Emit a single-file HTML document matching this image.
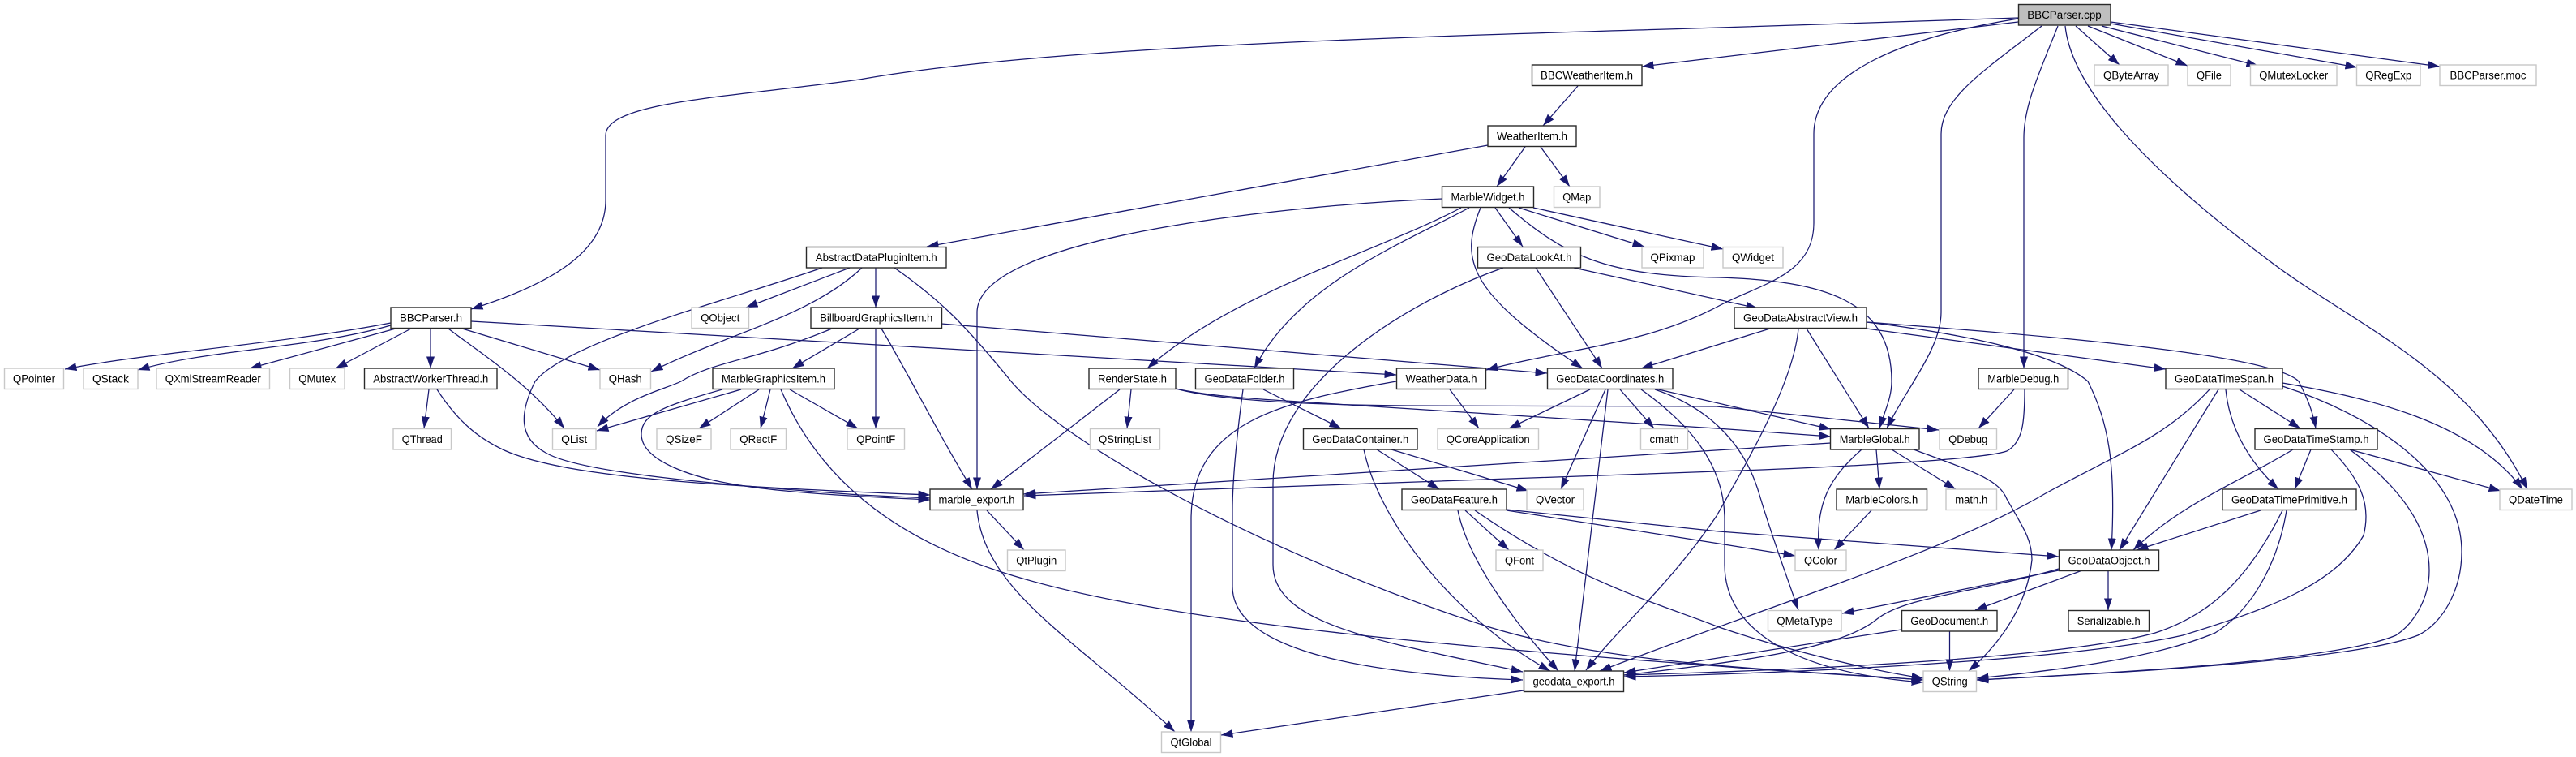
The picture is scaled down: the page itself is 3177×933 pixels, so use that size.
<!DOCTYPE html>
<html><head><meta charset="utf-8"><style>
html,body{margin:0;padding:0;background:#fff}
svg{display:block}
rect{fill:#fff;stroke-width:1.4}
rect.b{stroke:#2a2a2a}
rect.g{stroke:#c8c8c8}
text{font-family:"Liberation Sans",sans-serif;font-size:13.5px;text-anchor:middle;fill:#000;lengthAdjust:spacingAndGlyphs}
path{fill:none;stroke:#191970;stroke-width:1.25;marker-end:url(#a)}
</style></head><body>
<svg xmlns="http://www.w3.org/2000/svg" width="3177" height="933" viewBox="0 0 3177 933">
<defs><marker id="a" markerUnits="userSpaceOnUse" markerWidth="15" markerHeight="11" viewBox="0 0 15 11" refX="14.5" refY="5.5" orient="auto"><polygon points="0,0.5 14.5,5.5 0,10.5" fill="#191970"/></marker></defs>
<g>
<path d="M2489,22 L2120,34 C1800,44 1300,55 1060,98 C900,120 747,125 747,167 L747,247 C747,310 680,350 581,381"/>
<path d="M2489,27 L2025,82"/>
<path d="M2489,23 C2350,45 2237,90 2237,165 L2237,275 C2237,340 2170,350 2120,377 C2030,425 1930,430 1833,456"/>
<path d="M2518,32 C2450,85 2394,120 2394,165 L2394,385 C2394,430 2350,480 2327,528"/>
<path d="M2538,32 C2515,90 2496,130 2496,170 L2496,454"/>
<path d="M2547,32 C2555,110 2650,210 2793,317 C2900,400 3040,450 3117,603"/>
<path d="M2560,32 L2614,80"/>
<path d="M2575,32 L2698,81"/>
<path d="M2592,32 L2785,81"/>
<path d="M2603,29 L2907,83"/>
<path d="M2603,27 L3009,82"/>
<path d="M1946,106 L1903,155"/>
<path d="M1835,179 L1143,304"/>
<path d="M1881,181 L1846,230"/>
<path d="M1900,181 L1936,230"/>
<path d="M1779,245 C1600,252 1205,290 1205,385 L1205,603"/>
<path d="M1802,256 C1700,310 1520,360 1415,454"/>
<path d="M1812,256 C1730,300 1600,350 1547,454"/>
<path d="M1826,256 C1800,320 1810,360 1952,454"/>
<path d="M1844,256 L1878,304"/>
<path d="M1873,256 L2028,304"/>
<path d="M1891,256 L2125,307"/>
<path d="M1861,256 C1930,315 1980,340 2120,342 C2250,346 2333,370 2333,470 C2333,490 2325,505 2318,528"/>
<path d="M1014,330 C900,370 700,420 660,470 C640,510 640,540 673,558 C710,580 850,595 1060,610 L1147,614"/>
<path d="M1048,330 L920,379"/>
<path d="M1063,330 C1000,390 900,410 803,458"/>
<path d="M1080,330 L1080,379"/>
<path d="M1103,330 C1160,370 1190,400 1247,470 C1310,545 1550,680 1837,773 C1990,820 2200,825 2372,838"/>
<path d="M482,398 C340,425 180,435 80,455"/>
<path d="M482,401 C380,430 260,430 170,456"/>
<path d="M488,405 L308,454"/>
<path d="M507,405 L414,454"/>
<path d="M531,405 L531,454"/>
<path d="M553,405 C585,430 650,470 696,528"/>
<path d="M570,405 L740,456"/>
<path d="M581,396 L1722,462"/>
<path d="M1161,399 L1908,460"/>
<path d="M1026,405 C930,445 880,445 840,470 C820,480 770,490 737,526"/>
<path d="M1060,405 L977,454"/>
<path d="M1080,405 L1080,528"/>
<path d="M1087,405 C1120,460 1160,540 1199,603"/>
<path d="M914,480 L736,531"/>
<path d="M891,480 C820,500 791,510 791,535 C791,570 860,590 912,598 C960,606 1050,612 1147,616"/>
<path d="M936,480 L862,528"/>
<path d="M950,480 L938,528"/>
<path d="M974,480 L1058,528"/>
<path d="M963,480 C1010,590 1100,660 1229,703 C1400,760 1700,790 2120,821 C2200,828 2290,832 2372,838"/>
<path d="M529,480 L523,528"/>
<path d="M539,480 C565,520 590,540 622,555 C700,590 900,600 1147,610"/>
<path d="M1450,479 C1490,488 1540,491 1601,495 L2117,528 L2258,538"/>
<path d="M1450,479 C1500,493 1600,499 1736,500 L2117,501 L2391,530"/>
<path d="M1381,480 L1222,603"/>
<path d="M1395,480 L1390,528"/>
<path d="M1558,480 L1654,528"/>
<path d="M1533,480 C1525,540 1520,590 1520,630 L1520,723 C1520,790 1640,830 1878,838"/>
<path d="M1854,330 C1740,370 1570,470 1570,596 L1570,696 C1570,770 1700,790 1878,828"/>
<path d="M1894,330 L1976,454"/>
<path d="M1941,330 L2168,380"/>
<path d="M1788,480 L1824,528"/>
<path d="M1722,470 C1580,495 1469,520 1469,640 L1469,902"/>
<path d="M1961,480 L1861,528"/>
<path d="M1980,480 L1925,603"/>
<path d="M1983,480 L1942,827"/>
<path d="M1998,480 L2040,528"/>
<path d="M2041,479 L2258,529"/>
<path d="M2041,480 C2100,500 2150,540 2170,610 C2185,660 2200,700 2218,752"/>
<path d="M2024,480 C2080,520 2127,570 2127,640 L2127,696 C2127,780 2220,830 2372,841"/>
<path d="M2183,405 L2024,454"/>
<path d="M2218,405 C2212,470 2160,560 2117,636 C2060,720 2000,770 1956,826"/>
<path d="M2228,405 L2305,528"/>
<path d="M2302,405 L2671,455"/>
<path d="M2302,397 C2450,415 2540,440 2575,470 C2600,520 2610,570 2604,678"/>
<path d="M2302,397 C2500,412 2800,435 2835,470 C2845,490 2852,505 2856,528"/>
<path d="M2484,480 L2440,528"/>
<path d="M2497,480 C2497,520 2495,545 2475,556 C2450,565 2300,575 2117,581 L1263,611"/>
<path d="M2725,480 C2670,540 2610,560 2523,608 C2400,680 2200,740 1973,827"/>
<path d="M2736,480 L2614,678"/>
<path d="M2745,480 C2750,530 2775,570 2810,603"/>
<path d="M2762,480 L2837,528"/>
<path d="M2815,472 C2920,490 3050,520 3111,603"/>
<path d="M2815,476 C2920,510 3036,580 3036,680 C3036,730 3010,770 2982,783 C2900,815 2600,830 2438,838"/>
<path d="M2828,554 C2770,590 2690,620 2631,678"/>
<path d="M2850,554 L2830,603"/>
<path d="M2898,554 L3084,605"/>
<path d="M2875,554 C2910,590 2925,620 2915,660 C2880,720 2800,750 2692,783 C2550,815 2200,830 2003,834"/>
<path d="M2898,554 C2960,600 2996,650 2996,703 C2996,740 2975,770 2955,783 C2880,815 2600,830 2438,838"/>
<path d="M2788,629 L2635,678"/>
<path d="M2815,629 C2770,720 2720,760 2658,780 C2550,810 2250,825 2003,832"/>
<path d="M2820,629 C2810,690 2780,750 2732,780 C2660,810 2550,825 2438,836"/>
<path d="M2258,546 L1262,609"/>
<path d="M2296,554 C2255,590 2240,620 2243,678"/>
<path d="M2314,554 L2318,603"/>
<path d="M2333,554 L2412,603"/>
<path d="M2360,554 C2430,580 2465,590 2475,615 C2495,650 2506,665 2506,690 C2500,745 2470,790 2428,827"/>
<path d="M2308,629 L2262,678"/>
<path d="M2539,703 L2272,756"/>
<path d="M2539,701 C2440,730 2350,735 2315,763 C2270,800 2150,815 2003,832"/>
<path d="M2568,703 L2436,752"/>
<path d="M2600,703 L2600,752"/>
<path d="M2404.5,778 L2404.5,827"/>
<path d="M2345,776 L2003,829"/>
<path d="M1716,554 L1885,605"/>
<path d="M1698,554 L1775,603"/>
<path d="M1682,554 C1700,640 1790,760 1912,827"/>
<path d="M1807,629 L1861,678"/>
<path d="M1798,629 C1810,690 1870,770 1922,827"/>
<path d="M1858,628 L2120,655 L2539,686"/>
<path d="M1858,629 L2120,670 L2214,685"/>
<path d="M1819,629 C1950,720 2050,745 2120,773 C2200,800 2300,825 2372,836"/>
<path d="M1217,629 L1263,678"/>
<path d="M1205,629 C1215,730 1330,790 1449,902"/>
<path d="M1879,851 L1506,906"/>
</g>
<g>
<rect class="b" x="2489.5" y="5.5" width="113.5" height="25.5" style="fill:#bfbfbf"/><text x="2546" y="22.75" textLength="91.5" lengthAdjust="spacingAndGlyphs">BBCParser.cpp</text>
<rect class="b" x="1889.5" y="80" width="135.5" height="25.5"/><text x="1957" y="97.25" textLength="114" lengthAdjust="spacingAndGlyphs">BBCWeatherItem.h</text>
<rect class="g" x="2583" y="80" width="91" height="25.5"/><text x="2628.5" y="97.25" textLength="69" lengthAdjust="spacingAndGlyphs">QByteArray</text>
<rect class="g" x="2698" y="80" width="53" height="25.5"/><text x="2724.5" y="97.25" textLength="31" lengthAdjust="spacingAndGlyphs">QFile</text>
<rect class="g" x="2775.5" y="80" width="106.5" height="25.5"/><text x="2828.75" y="97.25" textLength="85" lengthAdjust="spacingAndGlyphs">QMutexLocker</text>
<rect class="g" x="2906.5" y="80" width="78.5" height="25.5"/><text x="2945.75" y="97.25" textLength="57" lengthAdjust="spacingAndGlyphs">QRegExp</text>
<rect class="g" x="3009" y="80" width="119" height="25.5"/><text x="3068.5" y="97.25" textLength="94" lengthAdjust="spacingAndGlyphs">BBCParser.moc</text>
<rect class="b" x="1835" y="155" width="109" height="25.5"/><text x="1889.5" y="172.25" textLength="87" lengthAdjust="spacingAndGlyphs">WeatherItem.h</text>
<rect class="b" x="1778.5" y="230" width="113" height="25.5"/><text x="1835" y="247.25" textLength="91" lengthAdjust="spacingAndGlyphs">MarbleWidget.h</text>
<rect class="g" x="1916.5" y="230" width="56.5" height="25.5"/><text x="1944.75" y="247.25" textLength="35" lengthAdjust="spacingAndGlyphs">QMap</text>
<rect class="b" x="994.5" y="304.5" width="172.5" height="25.5"/><text x="1080.75" y="321.75" textLength="150" lengthAdjust="spacingAndGlyphs">AbstractDataPluginItem.h</text>
<rect class="b" x="1822.5" y="304.5" width="127" height="25.5"/><text x="1886" y="321.75" textLength="105" lengthAdjust="spacingAndGlyphs">GeoDataLookAt.h</text>
<rect class="g" x="2025" y="304.5" width="76" height="25.5"/><text x="2063" y="321.75" textLength="55" lengthAdjust="spacingAndGlyphs">QPixmap</text>
<rect class="g" x="2125" y="304.5" width="74" height="25.5"/><text x="2162" y="321.75" textLength="52" lengthAdjust="spacingAndGlyphs">QWidget</text>
<rect class="b" x="482" y="379" width="99" height="25.5"/><text x="531.5" y="396.25" textLength="77" lengthAdjust="spacingAndGlyphs">BBCParser.h</text>
<rect class="g" x="853" y="379" width="70.5" height="25.5"/><text x="888.25" y="396.25" textLength="48" lengthAdjust="spacingAndGlyphs">QObject</text>
<rect class="b" x="1000" y="379" width="161.5" height="25.5"/><text x="1080.75" y="396.25" textLength="139" lengthAdjust="spacingAndGlyphs">BillboardGraphicsItem.h</text>
<rect class="b" x="2139" y="379" width="163" height="25.5"/><text x="2220.5" y="396.25" textLength="141" lengthAdjust="spacingAndGlyphs">GeoDataAbstractView.h</text>
<rect class="g" x="5.5" y="454" width="73" height="25.5"/><text x="42" y="471.25" textLength="52" lengthAdjust="spacingAndGlyphs">QPointer</text>
<rect class="g" x="103" y="454" width="67" height="25.5"/><text x="136.5" y="471.25" textLength="45" lengthAdjust="spacingAndGlyphs">QStack</text>
<rect class="g" x="193" y="454" width="139.5" height="25.5"/><text x="262.75" y="471.25" textLength="118" lengthAdjust="spacingAndGlyphs">QXmlStreamReader</text>
<rect class="g" x="357.5" y="454" width="67.5" height="25.5"/><text x="391.25" y="471.25" textLength="46" lengthAdjust="spacingAndGlyphs">QMutex</text>
<rect class="b" x="449.5" y="454" width="163.5" height="25.5"/><text x="531.25" y="471.25" textLength="142" lengthAdjust="spacingAndGlyphs">AbstractWorkerThread.h</text>
<rect class="g" x="740" y="454" width="62.5" height="25.5"/><text x="771.25" y="471.25" textLength="41" lengthAdjust="spacingAndGlyphs">QHash</text>
<rect class="b" x="879" y="454" width="150" height="25.5"/><text x="954" y="471.25" textLength="128" lengthAdjust="spacingAndGlyphs">MarbleGraphicsItem.h</text>
<rect class="b" x="1343" y="454" width="107" height="25.5"/><text x="1396.5" y="471.25" textLength="85" lengthAdjust="spacingAndGlyphs">RenderState.h</text>
<rect class="b" x="1474.5" y="454" width="121" height="25.5"/><text x="1535" y="471.25" textLength="99" lengthAdjust="spacingAndGlyphs">GeoDataFolder.h</text>
<rect class="b" x="1722.5" y="454" width="110" height="25.5"/><text x="1777.5" y="471.25" textLength="88" lengthAdjust="spacingAndGlyphs">WeatherData.h</text>
<rect class="b" x="1908.5" y="454" width="154.5" height="25.5"/><text x="1985.75" y="471.25" textLength="133" lengthAdjust="spacingAndGlyphs">GeoDataCoordinates.h</text>
<rect class="b" x="2440" y="454" width="110.5" height="25.5"/><text x="2495.25" y="471.25" textLength="88" lengthAdjust="spacingAndGlyphs">MarbleDebug.h</text>
<rect class="b" x="2671" y="454" width="144" height="25.5"/><text x="2743" y="471.25" textLength="122" lengthAdjust="spacingAndGlyphs">GeoDataTimeSpan.h</text>
<rect class="g" x="485" y="528.5" width="71.5" height="25.5"/><text x="520.75" y="545.75" textLength="50" lengthAdjust="spacingAndGlyphs">QThread</text>
<rect class="g" x="681.5" y="528.5" width="53.5" height="25.5"/><text x="708.25" y="545.75" textLength="32" lengthAdjust="spacingAndGlyphs">QList</text>
<rect class="g" x="810" y="528.5" width="67" height="25.5"/><text x="843.5" y="545.75" textLength="45" lengthAdjust="spacingAndGlyphs">QSizeF</text>
<rect class="g" x="901" y="528.5" width="68.5" height="25.5"/><text x="935.25" y="545.75" textLength="46" lengthAdjust="spacingAndGlyphs">QRectF</text>
<rect class="g" x="1045" y="528.5" width="70.5" height="25.5"/><text x="1080.25" y="545.75" textLength="48" lengthAdjust="spacingAndGlyphs">QPointF</text>
<rect class="g" x="1344.5" y="528.5" width="86" height="25.5"/><text x="1387.5" y="545.75" textLength="65" lengthAdjust="spacingAndGlyphs">QStringList</text>
<rect class="b" x="1607.5" y="528.5" width="140.5" height="25.5"/><text x="1677.75" y="545.75" textLength="119" lengthAdjust="spacingAndGlyphs">GeoDataContainer.h</text>
<rect class="g" x="1773" y="528.5" width="124.5" height="25.5"/><text x="1835.25" y="545.75" textLength="103" lengthAdjust="spacingAndGlyphs">QCoreApplication</text>
<rect class="g" x="2023.5" y="528.5" width="58" height="25.5"/><text x="2052.5" y="545.75" textLength="36" lengthAdjust="spacingAndGlyphs">cmath</text>
<rect class="b" x="2257.5" y="528.5" width="109.5" height="25.5"/><text x="2312.25" y="545.75" textLength="87" lengthAdjust="spacingAndGlyphs">MarbleGlobal.h</text>
<rect class="g" x="2392" y="528.5" width="70.5" height="25.5"/><text x="2427.25" y="545.75" textLength="48" lengthAdjust="spacingAndGlyphs">QDebug</text>
<rect class="b" x="2781" y="528.5" width="151" height="25.5"/><text x="2856.5" y="545.75" textLength="130" lengthAdjust="spacingAndGlyphs">GeoDataTimeStamp.h</text>
<rect class="b" x="1147" y="603" width="115" height="25.5"/><text x="1204.5" y="620.25" textLength="94" lengthAdjust="spacingAndGlyphs">marble_export.h</text>
<rect class="b" x="1729" y="603" width="129" height="25.5"/><text x="1793.5" y="620.25" textLength="107" lengthAdjust="spacingAndGlyphs">GeoDataFeature.h</text>
<rect class="g" x="1883" y="603" width="70" height="25.5"/><text x="1918" y="620.25" textLength="48" lengthAdjust="spacingAndGlyphs">QVector</text>
<rect class="b" x="2265" y="603" width="111.5" height="25.5"/><text x="2320.75" y="620.25" textLength="89" lengthAdjust="spacingAndGlyphs">MarbleColors.h</text>
<rect class="g" x="2400" y="603" width="62.5" height="25.5"/><text x="2431.25" y="620.25" textLength="40" lengthAdjust="spacingAndGlyphs">math.h</text>
<rect class="b" x="2741" y="603" width="165" height="25.5"/><text x="2823.5" y="620.25" textLength="143" lengthAdjust="spacingAndGlyphs">GeoDataTimePrimitive.h</text>
<rect class="g" x="3083" y="603" width="89" height="25.5"/><text x="3127.5" y="620.25" textLength="67" lengthAdjust="spacingAndGlyphs">QDateTime</text>
<rect class="g" x="1242.5" y="678" width="71.5" height="25.5"/><text x="1278.25" y="695.25" textLength="50" lengthAdjust="spacingAndGlyphs">QtPlugin</text>
<rect class="g" x="1845" y="678" width="58" height="25.5"/><text x="1874" y="695.25" textLength="36" lengthAdjust="spacingAndGlyphs">QFont</text>
<rect class="g" x="2214" y="678" width="63" height="25.5"/><text x="2245.5" y="695.25" textLength="41" lengthAdjust="spacingAndGlyphs">QColor</text>
<rect class="b" x="2539.5" y="678" width="123" height="25.5"/><text x="2601" y="695.25" textLength="101" lengthAdjust="spacingAndGlyphs">GeoDataObject.h</text>
<rect class="g" x="2180.5" y="752.5" width="90.5" height="25.5"/><text x="2225.75" y="769.75" textLength="69" lengthAdjust="spacingAndGlyphs">QMetaType</text>
<rect class="b" x="2345.5" y="752.5" width="117.5" height="25.5"/><text x="2404.25" y="769.75" textLength="96" lengthAdjust="spacingAndGlyphs">GeoDocument.h</text>
<rect class="b" x="2551" y="752.5" width="99.5" height="25.5"/><text x="2600.75" y="769.75" textLength="78" lengthAdjust="spacingAndGlyphs">Serializable.h</text>
<rect class="b" x="1879.5" y="827" width="123" height="25.5"/><text x="1941" y="844.25" textLength="101" lengthAdjust="spacingAndGlyphs">geodata_export.h</text>
<rect class="g" x="2372" y="827" width="65.5" height="25.5"/><text x="2404.75" y="844.25" textLength="44" lengthAdjust="spacingAndGlyphs">QString</text>
<rect class="g" x="1432.5" y="902" width="73" height="25.5"/><text x="1469" y="919.25" textLength="51" lengthAdjust="spacingAndGlyphs">QtGlobal</text>
</g>
</svg>
</body></html>
